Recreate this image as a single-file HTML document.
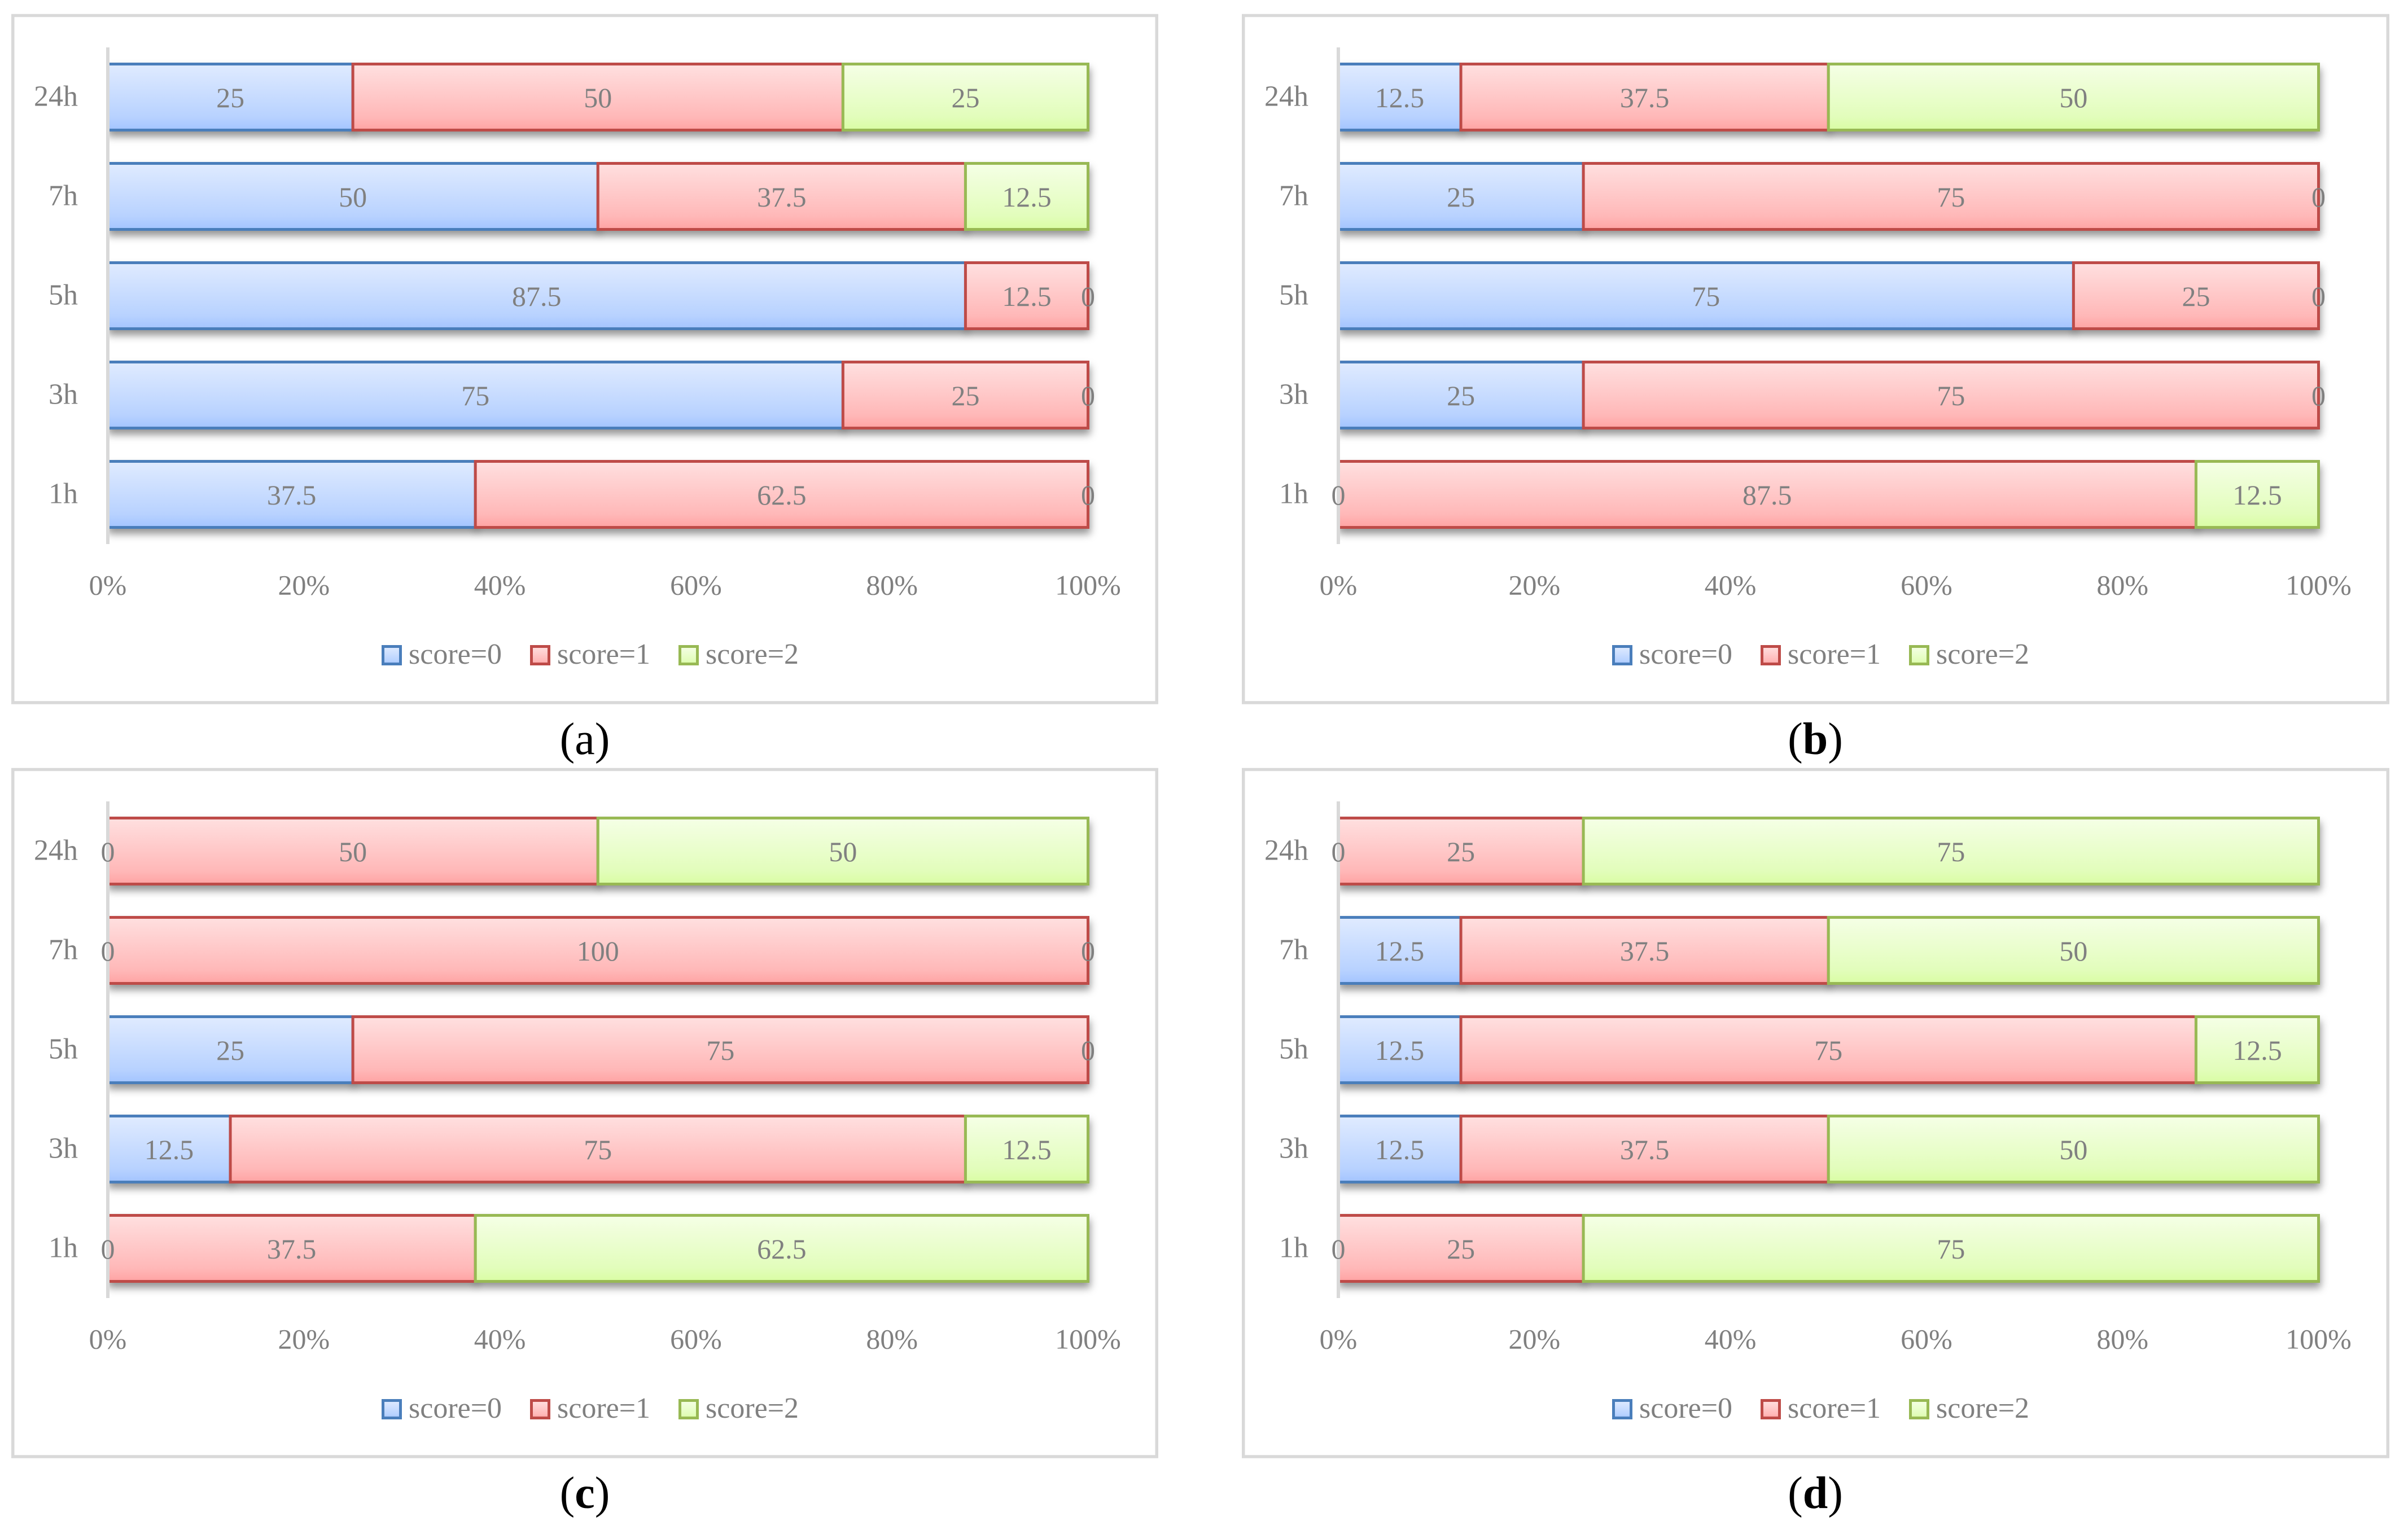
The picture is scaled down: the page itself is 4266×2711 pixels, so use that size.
<!DOCTYPE html>
<html lang="en">
<head>
<meta charset="utf-8">
<title>Stacked score charts</title>
<style>
html,body{margin:0;padding:0;background:#fff;width:4266px;height:2711px;overflow:hidden}
svg{display:block}
text{font-family:"Liberation Serif",serif;fill:#808080}
.cap{fill:#000;font-size:80px}
</style>
</head>
<body>
<svg id="figure" xmlns="http://www.w3.org/2000/svg" width="4266" height="2711" viewBox="0 0 4266 2711">
<defs>
<linearGradient id="g0" x1="0" y1="0" x2="0" y2="1"><stop offset="0" stop-color="#e0ebff"/><stop offset=".8" stop-color="#b8d2ff"/><stop offset="1" stop-color="#a3c4ff"/></linearGradient>
<linearGradient id="g1" x1="0" y1="0" x2="0" y2="1"><stop offset="0" stop-color="#ffe0e0"/><stop offset=".8" stop-color="#ffb8b8"/><stop offset="1" stop-color="#ffa3a3"/></linearGradient>
<linearGradient id="g2" x1="0" y1="0" x2="0" y2="1"><stop offset="0" stop-color="#f5ffe6"/><stop offset=".8" stop-color="#e2fdbb"/><stop offset="1" stop-color="#d9fda3"/></linearGradient>
<filter id="soft" x="-5%" y="-30%" width="110%" height="160%"><feGaussianBlur stdDeviation="7"/></filter>
</defs>
</svg>
<script>
const categories = ['1h', '3h', '5h', '7h', '24h'];
const seriesNames = ['score=0', 'score=1', 'score=2'];
const xTickValues = [0, 20, 40, 60, 80, 100];
const panelLabels = ['a', 'b', 'c', 'd'];

const a_score0 = [37.5, 75, 87.5, 50, 25];
const a_score1 = [62.5, 25, 12.5, 37.5, 50];
const a_score2 = [0, 0, 0, 12.5, 25];

const b_score0 = [0, 25, 75, 25, 12.5];
const b_score1 = [87.5, 75, 25, 75, 37.5];
const b_score2 = [12.5, 0, 0, 0, 50];

const c_score0 = [0, 12.5, 25, 0, 0];
const c_score1 = [37.5, 75, 75, 100, 50];
const c_score2 = [62.5, 12.5, 0, 0, 50];

const d_score0 = [0, 12.5, 12.5, 12.5, 0];
const d_score1 = [25, 37.5, 75, 37.5, 25];
const d_score2 = [75, 50, 12.5, 50, 75];

const panelSeries = [
  [a_score0, a_score1, a_score2],
  [b_score0, b_score1, b_score2],
  [c_score0, c_score1, c_score2],
  [d_score0, d_score1, d_score2]
];

const NS = 'http://www.w3.org/2000/svg';
const strokes = ['#4a7ebb', '#be4b48', '#98b954'];
const svg = document.getElementById('figure');

function make(tag, attrs, parent, content) {
  const node = document.createElementNS(NS, tag);
  for (const k in attrs) node.setAttribute(k, attrs[k]);
  if (content !== undefined) node.textContent = content;
  parent.appendChild(node);
  return node;
}

// axis functions (panel-local pixel coordinates)
function xScale(v) { return 191 + v * 17.365; }
function bandTop(i) { return 111 + (categories.length - 1 - i) * 176; }

function drawPanel(p) {
  const dx = (p % 2) * 2180;
  const dy = Math.floor(p / 2) * 1336;
  const series = panelSeries[p];
  const letter = panelLabels[p];

  const g = make('g', { transform: 'translate(' + dx + ',' + dy + ')' }, svg);
  
  

  const frame = make('rect', { x: 22.75, y: 27.5, width: 2026.5 + (p % 2), height: 1217.5, fill: '#fff', stroke: '#d9d9d9', 'stroke-width': 5.5 }, g);
  
  

  const clip = make('clipPath', { id: 'clip' + p }, g);
  make('rect', { x: 194, y: 84, width: 1800, height: 900 }, clip);

  const shadows = make('g', { 'clip-path': 'url(#clip' + p + ')' }, g);
  const shadowLayer = make('g', { filter: 'url(#soft)', fill: '#000', 'fill-opacity': '.42' }, shadows);
  
  
  const bars = make('g', {}, g);
  
  

  categories.forEach(function (cat, i) {
    let cum = 0;
    series.forEach(function (vals, s) {
      const v = vals[i];
      if (v > 0) {
        const x0 = xScale(cum);
        const x1 = xScale(cum + v);
        const top = bandTop(i);
        make('rect', { x: x0, y: top + 10, width: x1 - x0 + 4, height: 121 }, shadowLayer);
        const bar = make('rect', { x: x0, y: top + 2.5, width: x1 - x0, height: 117, fill: 'url(#g' + s + ')', stroke: strokes[s], 'stroke-width': 5 }, bars);
        
        
      }
      cum += v;
    });
  });

  const axisLine = make('rect', { x: 188, y: 84, width: 6, height: 880, fill: '#d9d9d9' }, g);
  
  

  categories.forEach(function (cat, i) {
    const catLabel = make('text', { x: 138, y: bandTop(i) + 76.7, 'text-anchor': 'end', 'font-size': 52 }, g, cat);
    
    
    let cum = 0;
    series.forEach(function (vals, s) {
      const v = vals[i];
      const label = make('text', { x: xScale(cum + v / 2), y: bandTop(i) + 79, 'text-anchor': 'middle', 'font-size': 50 }, g, String(v));
      
      
      cum += v;
    });
  });

  xTickValues.forEach(function (t) {
    const tick = make('text', { x: xScale(t), y: 1053.6, 'text-anchor': 'middle', 'font-size': 50 }, g, t + '%');
    
    
  });

  seriesNames.forEach(function (name, s) {
    const entry = make('g', {}, g);
    
    
    const left = 676 + s * 263;
    const swatch = make('rect', { x: left + 2.5, y: 1145.5, width: 31, height: 31, fill: 'url(#g' + s + ')', stroke: strokes[s], 'stroke-width': 5 }, entry);
    
    
    const text = make('text', { x: left + 48, y: 1176, 'font-size': 52 }, entry, name);
    
    
  });

  const caption = make('text', { class: 'cap', x: 1036, y: 1336, 'text-anchor': 'middle' }, g);
  
  
  make('tspan', {}, caption, '(');
  make('tspan', { 'font-weight': letter === 'a' ? 'normal' : 'bold' }, caption, letter);
  make('tspan', {}, caption, ')');
}

panelLabels.forEach(function (_, p) { drawPanel(p); });
</script>
</body>
</html>
